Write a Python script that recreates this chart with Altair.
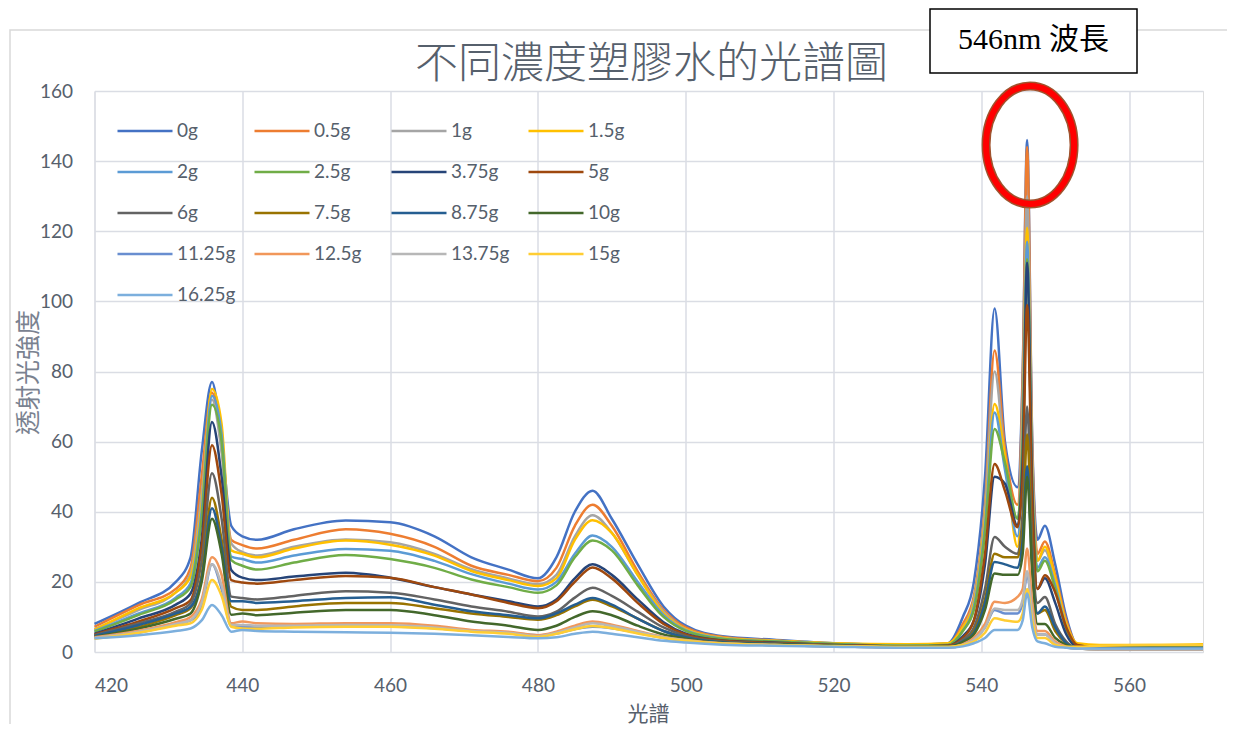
import altair as alt
import pandas as pd

# ---------------- data ----------------
WAVELENGTHS = [420, 426, 431, 433, 434.5, 435.9, 437.2, 438.5, 440, 442, 447, 454, 460, 466, 471, 476,
               480, 482.5, 485, 487.4, 490, 493.5, 497, 500, 505, 512, 520, 530, 535.5, 537.5, 539,
               540.5, 541.8, 543.2, 544.9, 545.6, 546.2, 546.9, 547.6, 548.6, 550, 551.5, 553, 556, 563, 570]

SERIES_NAMES = ["0g", "0.5g", "1g", "1.5g", "2g", "2.5g", "3.75g", "5g", "6g", "7.5g", "8.75g",
                "10g", "11.25g", "12.5g", "13.75g", "15g", "16.25g"]

SERIES_COLORS = ["#4472C4", "#ED7D31", "#A5A5A5", "#FFC000", "#5B9BD5", "#70AD47", "#264478",
                 "#9E480E", "#636363", "#997300", "#255E91", "#43682B", "#698ED0", "#F1975A",
                 "#B7B7B7", "#FFCD33", "#7CAFDD"]

V_0G = [8, 14, 20, 27, 57, 77, 60, 36, 33, 32, 35, 37.5, 37, 33, 27, 23.5, 21, 27, 40, 46, 38, 25, 13, 7.5,
        4.5, 3.5, 2.5, 2, 2.5, 10, 20, 50, 98, 60, 47, 80, 146, 60, 32, 36, 25, 10, 2, 1.5, 1.5, 1.5]
V_05G = [7.2, 13.4, 18, 24, 50, 74, 58, 32, 30.5, 29.5, 32, 35, 33.7, 30, 24.6, 22, 20.2, 24, 36, 42, 36, 23,
         12, 7, 4.3, 3.3, 2.4, 2, 2.3, 8, 16, 42, 86, 58, 42, 78, 144, 58, 28, 31.5, 22, 9, 2, 1.2, 1.2, 1.2]
V_1G = [6.5, 12, 17, 22.4, 45, 72, 57, 31, 28.5, 27.5, 30, 32.1, 31.3, 28, 23.6, 21, 19.3, 22, 33, 39, 34, 22,
        11.5, 6.5, 4, 3.2, 2.4, 2, 2.2, 7, 15, 40, 80, 55, 38, 72, 130, 55, 26, 29, 20, 8, 2, 1.3, 1.3, 1.3]
V_15G = [6.3, 12.5, 17, 21.5, 42, 75, 65, 29, 28, 27, 29.5, 31.8, 30.6, 27.5, 23.1, 20.5, 18.8, 21, 32, 37.6,
         34, 22, 11, 6.5, 4, 3.2, 2.5, 2.2, 2.5, 7, 14, 38, 70.7, 56, 30, 65, 121, 50, 26, 30, 21, 8, 2.5, 2,
         2, 2.2]
V_2G = [6, 11, 15.5, 19.6, 40, 73, 62, 27.2, 26.5, 25.5, 27.5, 29.4, 28.9, 26, 22.2, 19.5, 17.8, 20, 28, 33.2,
        30, 20, 10.5, 6.2, 3.8, 3, 2.3, 1.8, 2, 6, 13, 36, 68.3, 52, 33, 62, 117, 48, 24, 27, 19, 7, 1.8, 1.5,
        1.5, 1.5]
V_25G = [5.8, 10.6, 15, 18.6, 38, 70.5, 60, 26.2, 24.6, 23.5, 25.5, 27.7, 26.5, 24, 20.7, 18.5, 16.9, 19, 27,
         31.8, 29, 19, 10, 6, 3.7, 3, 2.3, 1.8, 2, 6, 12, 34, 63.6, 54, 38, 60, 112, 46, 23, 26, 18, 6.5, 1.8,
         1.5, 1.5, 1.5]
V_375G = [5.2, 9.6, 13.5, 16.7, 32, 65.6, 50, 23.4, 21.2, 20.5, 21.5, 22.6, 21.2, 18.5, 16.4, 14.5, 13, 15,
          21, 25, 22, 15, 8.5, 5.2, 3.3, 2.7, 2, 1.6, 1.8, 4.5, 9, 25, 50, 48, 36, 55, 111, 45, 18, 21, 14, 5,
          1.5, 1.2, 1.2, 1.2]
V_5G = [5, 8.7, 12.5, 14.8, 30, 59, 45, 20.5, 19.8, 19.5, 20.5, 21.7, 21.2, 18.5, 16.4, 14, 12.5, 14.5, 20,
        24.1, 21, 14, 8, 5, 3.2, 2.6, 2, 1.6, 1.8, 4, 9, 28, 53.6, 46, 35.6, 50, 99, 42, 18, 21.9, 17, 7, 2,
        1.2, 1, 1]
V_6G = [4.8, 8.2, 11.5, 13.9, 26, 51, 38, 15.8, 15.4, 15, 16, 17.3, 16.9, 15, 13, 11.5, 10.1, 11.5, 15.5,
        18.3, 16, 11.5, 7, 4.6, 3, 2.4, 1.9, 1.5, 1.6, 3.5, 7, 18, 32.8, 30, 28, 40, 70, 30, 14, 15.7, 8, 3,
        1.2, 1, 1, 1]
V_75G = [4.5, 7.2, 10.5, 12.5, 22, 44, 32, 12.9, 12, 12, 13, 14, 14, 12.5, 11, 10, 9.2, 10.5, 13, 14.9, 13,
         9.5, 6, 4.2, 2.8, 2.3, 1.8, 1.5, 1.5, 3, 6, 15, 28, 27, 27, 35, 62, 27, 11, 12, 6, 2.5, 1.2, 1, 1, 1]
V_875G = [4.6, 7.7, 11, 12.9, 21, 41, 30, 14.5, 14.5, 14, 14.5, 15.4, 15.6, 13.5, 11.6, 10.5, 9.6, 11, 13.5,
          15.4, 13.5, 9.5, 6, 4.2, 2.8, 2.3, 1.8, 1.5, 1.5, 3, 5.5, 14, 25.7, 25, 24, 32, 53, 24, 11, 13, 7,
          2.5, 1.2, 1, 1, 1]
V_10G = [4.3, 6.7, 9.5, 11, 20, 38, 28, 10.6, 11, 10.5, 11.2, 12, 12, 10.5, 8.7, 7.5, 6.3, 7.5, 10, 11.6,
         10.5, 7.5, 5, 3.8, 2.6, 2.2, 1.8, 1.5, 1.5, 2.8, 5, 12, 22.4, 22, 22, 28, 50, 22, 8, 8, 4, 2, 1, 0.8,
         0.8, 0.8]
V_1125G = [4, 5.5, 8, 9, 13, 25, 18, 7.5, 7.2, 7, 7.2, 7.4, 7.3, 6.8, 6, 5.5, 4.8, 5.3, 6.5, 7.2, 6.8, 5.5,
           4, 3.2, 2.4, 2, 1.6, 1.3, 1.3, 2, 3.5, 7, 12, 11, 11, 14, 22, 12, 5, 5, 2.5, 1.3, 1, 0.8, 0.8,
           0.8]
V_125G = [4.2, 6.1, 8.5, 10, 15, 27, 22, 8.2, 8.7, 8.2, 8, 8.2, 8.2, 7.5, 6.3, 5.8, 4.8, 5.8, 7.5, 8.7, 7.8,
          6, 4.3, 3.4, 2.5, 2, 1.6, 1.3, 1.3, 2.2, 4, 8, 14.3, 14, 15.7, 18, 29.5, 14, 6, 6, 3, 1.5, 1, 0.8,
          0.8, 0.8]
V_1375G = [4, 5.8, 8, 9.1, 14, 25, 19, 7.7, 7.7, 7.5, 7.5, 7.7, 7.6, 7, 6, 5.5, 4.5, 5.5, 7, 8.2, 7.4, 5.8,
           4.2, 3.3, 2.4, 2, 1.6, 1.3, 1.3, 2, 3.5, 7, 12.4, 12, 12, 15, 23, 11, 5, 5, 2.5, 1.3, 1, 0.8, 0.8,
           0.8]
V_15G_ = [3.8, 5.5, 7.5, 8.2, 12, 20.5, 16, 7.2, 6.7, 6.6, 7, 7.2, 7.2, 6.6, 5.8, 5.2, 4.3, 5.2, 6.5, 7.4,
          6.8, 5.3, 4, 3.2, 2.4, 2, 1.7, 1.5, 1.5, 2, 3, 5.5, 9.6, 9, 8.6, 11, 18, 9, 4, 4, 2, 1.5, 1.5, 1.8,
          2, 2]
V_1625G = [3.9, 4.8, 6, 6.7, 9, 13.4, 10.5, 5.8, 6.3, 6, 5.8, 5.6, 5.5, 5.2, 4.8, 4.3, 3.9, 4.2, 5.2, 5.8,
           5.2, 4.2, 3.2, 2.7, 2.1, 1.8, 1.5, 1.2, 1.2, 1.6, 2.5, 4, 6.3, 6.3, 6.3, 9, 16.7, 7, 3, 2.5, 1.5,
           1.2, 1, 1, 1, 1]

SERIES_VALUES = [V_0G, V_05G, V_1G, V_15G, V_2G, V_25G, V_375G, V_5G, V_6G, V_75G, V_875G, V_10G,
                 V_1125G, V_125G, V_1375G, V_15G_, V_1625G]

Y_TICKS = [0, 20, 40, 60, 80, 100, 120, 140, 160]
X_TICKS = [420, 440, 460, 480, 500, 520, 540, 560]

TITLE = "不同濃度塑膠水的光譜圖"
X_TITLE = "光譜"
Y_TITLE = "透射光強度"
NOTE = "546nm 波長"
PEAK = {"x": 546.6, "y": 144.6}

# ---------------- table ----------------
rows = []
for order, (name, vals) in enumerate(zip(SERIES_NAMES, SERIES_VALUES)):
    for w, v in zip(WAVELENGTHS, vals):
        rows.append({"wavelength": w, "value": v, "series": name, "order": order})
df = pd.DataFrame(rows)

W, H = 1108.5, 561
TXT = "#56606C"
GRID = "#DADDE4"
CJK_SERIF = "Liberation Serif, Noto Sans CJK TC"
NUM_FONT = "Lato"

x_scale = alt.Scale(domain=[420, 570], nice=False, zero=False)
y_scale = alt.Scale(domain=[0, 160], nice=False, zero=True)

lines = alt.Chart(df).mark_line(strokeWidth=2.5, interpolate="monotone").encode(
    x=alt.X("wavelength:Q", scale=x_scale,
            axis=alt.Axis(values=X_TICKS, grid=True, gridColor=GRID, gridWidth=1.5, domain=False,
                          ticks=False, tickSize=0, labelFontSize=19, labelColor=TXT, labelFont=NUM_FONT,
                          labelPadding=24, title=X_TITLE, titleFont=CJK_SERIF, titleFontSize=21,
                          titleFontWeight="normal", titleColor=TXT, titleX=553.5, titleY=62,
                          titleBaseline="middle", titleAlign="center")),
    y=alt.Y("value:Q", scale=y_scale,
            axis=alt.Axis(values=Y_TICKS, grid=True, gridColor=GRID, gridWidth=1.5, domain=False,
                          ticks=False, tickSize=0, labelFontSize=19, labelColor=TXT, labelFont=NUM_FONT,
                          labelPadding=22, title=Y_TITLE, titleFont=CJK_SERIF, titleFontSize=25,
                          titleFontWeight="normal", titleColor="#7A8290", titleX=-66.5, titleY=281,
                          titleAngle=270, titleBaseline="middle", titleAlign="center")),
    color=alt.Color("series:N", sort=SERIES_NAMES,
                    scale=alt.Scale(domain=SERIES_NAMES, range=SERIES_COLORS),
                    legend=alt.Legend(orient="none", direction="horizontal", legendX=21.5, legendY=11,
                                      columns=4, gridAlign="all", symbolType="stroke", symbolSize=3025,
                                      symbolStrokeWidth=2.5, labelFontSize=19, labelColor=TXT,
                                      labelFont=NUM_FONT, labelOffset=3, columnPadding=13,
                                      rowPadding=2, title=None)),
    order=alt.Order("order:Q"),
)

one = pd.DataFrame([PEAK])

border = alt.Chart(one).mark_rect(fill=None, fillOpacity=0, stroke="#D9D9D9", strokeWidth=1.5).encode(
    x=alt.value(-84.5), x2=alt.value(1300), y=alt.value(-61), y2=alt.value(800))

ell_path = "M -0.746 0 A 0.746 1 0 1 0 0.746 0 A 0.746 1 0 1 0 -0.746 0 Z"
ellipse_out = alt.Chart(one).mark_point(shape=ell_path, filled=False, stroke="#A0522D",
                                        strokeWidth=9, size=13924, opacity=1).encode(
    x=alt.X("x:Q", scale=x_scale), y=alt.Y("y:Q", scale=y_scale))
ellipse_in = alt.Chart(one).mark_point(shape=ell_path, filled=False, stroke="#FF0000",
                                       strokeWidth=6, size=13924, opacity=1).encode(
    x=alt.X("x:Q", scale=x_scale), y=alt.Y("y:Q", scale=y_scale))

title = alt.Chart(one).mark_text(text=TITLE, font="Noto Sans CJK TC", fontSize=43, fontWeight=300,
                                 color=TXT, align="center", baseline="middle").encode(
    x=alt.value(557), y=alt.value(-26))

box = alt.Chart(one).mark_rect(fill="white", stroke="black", strokeWidth=1.5).encode(
    x=alt.value(835.5), x2=alt.value(1042.5), y=alt.value(-82), y2=alt.value(-18))
box_text = alt.Chart(one).mark_text(text=NOTE, font=CJK_SERIF, fontSize=30, color="black",
                                    align="center", baseline="middle").encode(
    x=alt.value(939), y=alt.value(-51))

chart = alt.layer(border, lines, ellipse_out, ellipse_in, title, box, box_text).properties(
    width=W, height=H,
    autosize=alt.AutoSizeParams(type="none"),
    padding={"left": 86.5, "top": 83, "right": 24, "bottom": 72},
).configure_view(stroke=None).configure(background="white")

chart.save("out.html", embed_options={"renderer": "svg", "actions": False})
